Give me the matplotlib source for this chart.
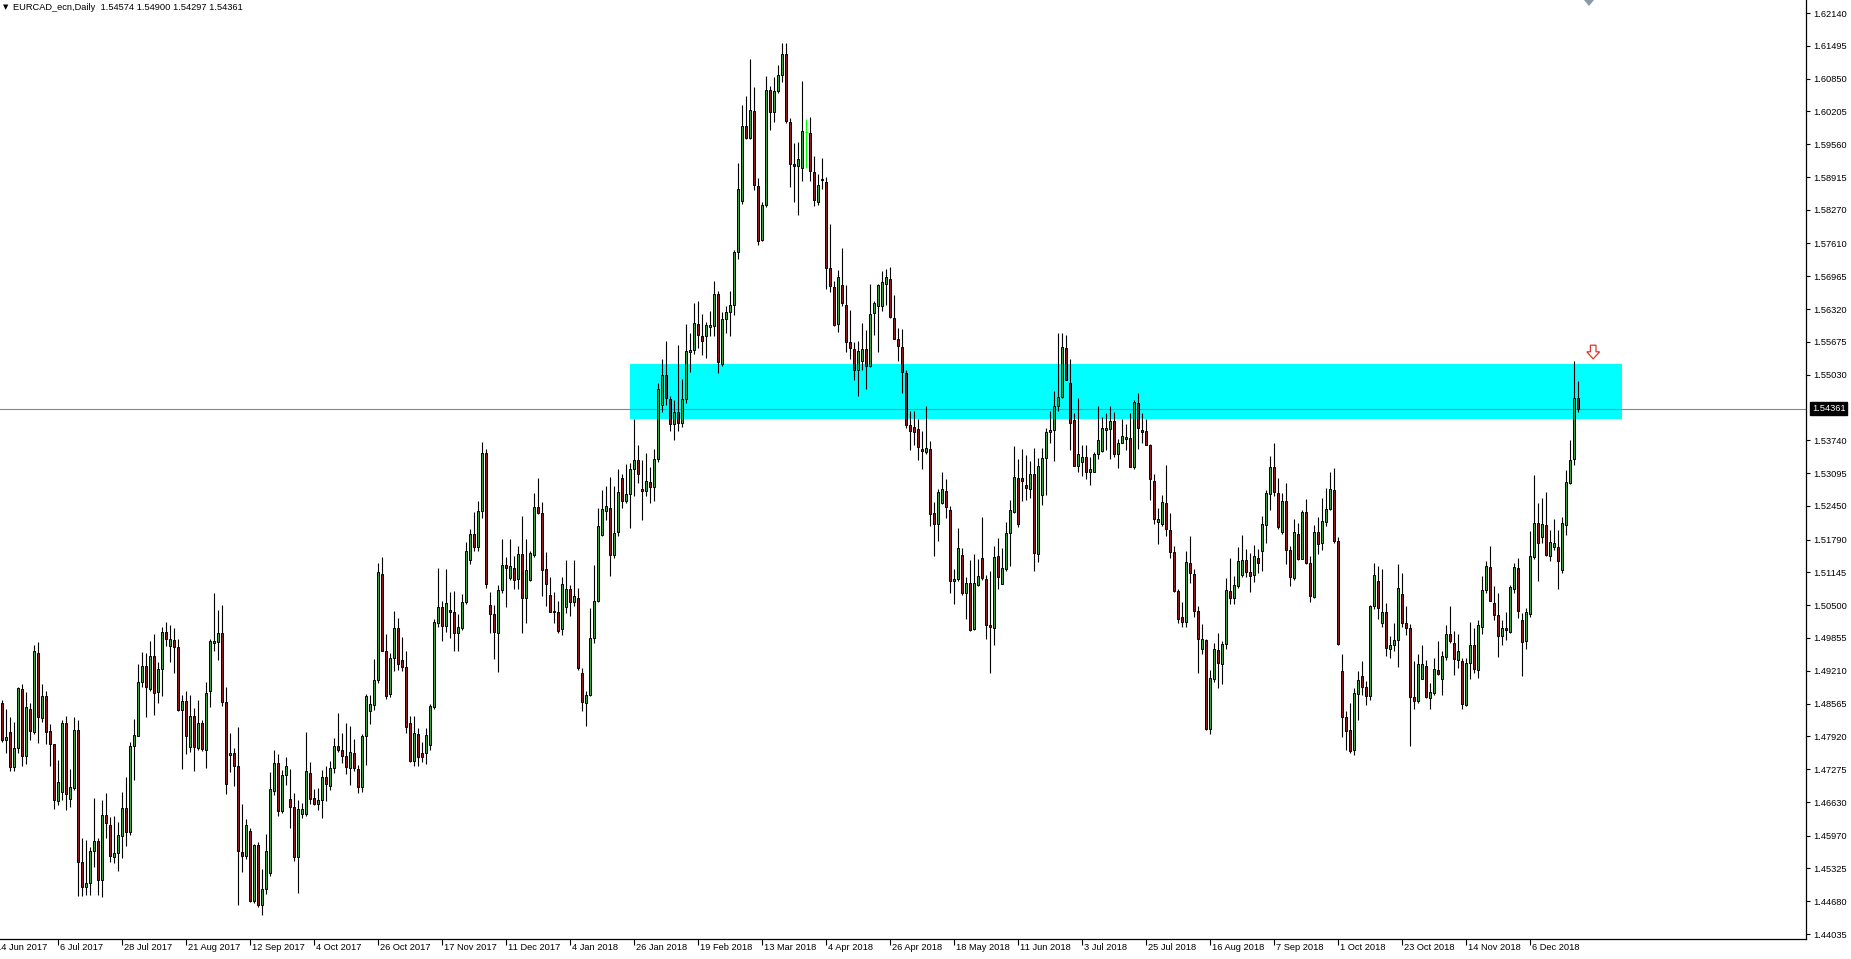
import numpy as np
import matplotlib
matplotlib.use("Agg")
import matplotlib.pyplot as plt
from matplotlib.patches import Rectangle, Polygon
from matplotlib.transforms import blended_transform_factory

plt.rcParams["font.family"] = ["Liberation Sans", "DejaVu Sans"]

# daily candles, EURCAD, mid Jun 2017 .. 20 Dec 2018
opens = [
    1.4857, 1.4784, 1.4801, 1.4732, 1.4769, 1.4886, 1.4753, 1.4845, 1.4801, 1.4955,
    1.4829, 1.4871, 1.4803, 1.4777, 1.4664, 1.4683, 1.4818, 1.4669, 1.4690, 1.4804,
    1.4545, 1.4496, 1.4504, 1.4567, 1.4586, 1.4510, 1.4637, 1.4617, 1.4555, 1.4562,
    1.4597, 1.4651, 1.4605, 1.4774, 1.4793, 1.4899, 1.4931, 1.4885, 1.4951, 1.4880,
    1.4925, 1.4998, 1.4970, 1.4982, 1.4967, 1.4844, 1.4862, 1.4771, 1.4833, 1.4769,
    1.4818, 1.4766, 1.4881, 1.4976, 1.4977, 1.4995, 1.4860, 1.4756, 1.4760, 1.4734,
    1.4565, 1.4557, 1.4606, 1.4468, 1.4578, 1.4461, 1.4492, 1.4524, 1.4685, 1.4739,
    1.4645, 1.4717, 1.4669, 1.4654, 1.4555, 1.4640, 1.4640, 1.4720, 1.4671, 1.4659,
    1.4666, 1.4713, 1.4694, 1.4729, 1.4774, 1.4766, 1.4753, 1.4729, 1.4760, 1.4727,
    1.4692, 1.4792, 1.4841, 1.4854, 1.4902, 1.5111, 1.4960, 1.4875, 1.4946, 1.5006,
    1.4943, 1.4928, 1.4818, 1.4744, 1.4797, 1.4759, 1.4759, 1.4775, 1.4849, 1.5015,
    1.5046, 1.5009, 1.5041, 1.5036, 1.4995, 1.5006, 1.5056, 1.5139, 1.5189, 1.5164,
    1.5236, 1.5349, 1.5050, 1.5032, 1.4995, 1.5079, 1.5128, 1.5103, 1.5124, 1.5102,
    1.5150, 1.5065, 1.5100, 1.5149, 1.5243, 1.5232, 1.5121, 1.5070, 1.5039, 1.5036,
    1.5004, 1.5046, 1.5081, 1.5056, 1.5065, 1.4916, 1.4858, 1.4874, 1.4985, 1.5058,
    1.5188, 1.5236, 1.5241, 1.5149, 1.5194, 1.5300, 1.5255, 1.5269, 1.5317, 1.5335,
    1.5279, 1.5274, 1.5293, 1.5283, 1.5338, 1.5443, 1.5502, 1.5456, 1.5406, 1.5429,
    1.5409, 1.5456, 1.5547, 1.5552, 1.5603, 1.5580, 1.5580, 1.5597, 1.5599, 1.5662,
    1.5524, 1.5613, 1.5627, 1.5641, 1.5745, 1.5845, 1.5992, 1.5968, 1.6022, 1.5873,
    1.5768, 1.5836, 1.6062, 1.6020, 1.6060, 1.6093, 1.6133, 1.5999, 1.5917, 1.5914,
    1.5909, 1.5980, 1.5978, 1.5901, 1.5843, 1.5888, 1.5882, 1.5712, 1.5675, 1.5603,
    1.5679, 1.5641, 1.5568, 1.5554, 1.5513, 1.5530, 1.5553, 1.5521, 1.5624, 1.5639,
    1.5638, 1.5682, 1.5692, 1.5615, 1.5574, 1.5558, 1.5507, 1.5404, 1.5400, 1.5396,
    1.5357, 1.5351, 1.5357, 1.5231, 1.5210, 1.5250, 1.5274, 1.5238, 1.5097, 1.5101,
    1.5148, 1.5074, 1.5093, 1.5004, 1.5089, 1.5142, 1.5101, 1.5011, 1.5005, 1.5146,
    1.5092, 1.5121, 1.5191, 1.5234, 1.5300, 1.5300, 1.5287, 1.5278, 1.5308, 1.5150,
    1.5266, 1.5340, 1.5391, 1.5394, 1.5442, 1.5460, 1.5556, 1.5487, 1.5413, 1.5323,
    1.5332, 1.5342, 1.5311, 1.5312, 1.5347, 1.5353, 1.5395, 1.5396, 1.5412, 1.5347,
    1.5369, 1.5376, 1.5378, 1.5321, 1.5447, 1.5395, 1.5393, 1.5365, 1.5295, 1.5214,
    1.5210, 1.5251, 1.5197, 1.5155, 1.5078, 1.5026, 1.5016, 1.5133, 1.5111, 1.5038,
    1.4964, 1.4982, 1.4807, 1.4905, 1.4961, 1.4935, 1.4974, 1.5078, 1.5064, 1.5088,
    1.5109, 1.5138, 1.5115, 1.5109, 1.5143, 1.5157, 1.5208, 1.5268, 1.5321, 1.5270,
    1.5194, 1.5254, 1.5159, 1.5103, 1.5190, 1.5141, 1.5233, 1.5132, 1.5066, 1.5193,
    1.5172, 1.5213, 1.5239, 1.5277, 1.5177, 1.4921, 1.4830, 1.4805, 1.4765, 1.4875,
    1.4910, 1.4889, 1.4871, 1.5048, 1.5097, 1.5014, 1.5036, 1.4964, 1.4972, 1.4981,
    1.5072, 1.5015, 1.5005, 1.4869, 1.4861, 1.4905, 1.4931, 1.4868, 1.4877, 1.4923,
    1.4904, 1.4949, 1.4993, 1.4976, 1.4943, 1.4940, 1.4854, 1.4936, 1.4972, 1.4922,
    1.5007, 1.5079, 1.5125, 1.5054, 1.5031, 1.4990, 1.5005, 1.4997, 1.5082, 1.5124,
    1.5021, 1.4979, 1.5033, 1.5144, 1.5211, 1.5184, 1.5207, 1.5147, 1.5164, 1.5164,
    1.5120, 1.5208, 1.5290, 1.5337, 1.54574,
]
highs = [
    1.4864, 1.4845, 1.4831, 1.4820, 1.4890, 1.4894, 1.4879, 1.4857, 1.4971, 1.4977,
    1.4894, 1.4882, 1.4817, 1.4778, 1.4745, 1.4825, 1.4833, 1.4727, 1.4831, 1.4824,
    1.4592, 1.4588, 1.4574, 1.4671, 1.4592, 1.4666, 1.4680, 1.4634, 1.4635, 1.4624,
    1.4682, 1.4713, 1.4781, 1.4826, 1.4934, 1.4957, 1.4955, 1.4980, 1.4993, 1.4939,
    1.5008, 1.5017, 1.5010, 1.5005, 1.4984, 1.4873, 1.4881, 1.4874, 1.4847, 1.4864,
    1.4824, 1.4899, 1.4983, 1.5073, 1.5041, 1.5050, 1.4889, 1.4798, 1.4769, 1.4810,
    1.4659, 1.4629, 1.4611, 1.4581, 1.4585, 1.4531, 1.4601, 1.4722, 1.4766, 1.4757,
    1.4725, 1.4752, 1.4727, 1.4681, 1.4667, 1.4662, 1.4801, 1.4741, 1.4688, 1.4690,
    1.4725, 1.4734, 1.4743, 1.4789, 1.4838, 1.4799, 1.4819, 1.4812, 1.4786, 1.4736,
    1.4797, 1.4875, 1.4873, 1.4944, 1.5132, 1.5145, 1.4994, 1.4955, 1.5039, 1.5024,
    1.4987, 1.4959, 1.4832, 1.4832, 1.4808, 1.4780, 1.4808, 1.4855, 1.5023, 1.5123,
    1.5058, 1.5122, 1.5076, 1.5078, 1.5032, 1.5072, 1.5175, 1.5199, 1.5234, 1.5255,
    1.5371, 1.5356, 1.5076, 1.5050, 1.5090, 1.5180, 1.5145, 1.5180, 1.5147, 1.5166,
    1.5225, 1.5180, 1.5156, 1.5271, 1.5300, 1.5252, 1.5154, 1.5105, 1.5076, 1.5058,
    1.5105, 1.5139, 1.5090, 1.5138, 1.5083, 1.4926, 1.4881, 1.5044, 1.5128, 1.5241,
    1.5276, 1.5285, 1.5302, 1.5284, 1.5317, 1.5307, 1.5328, 1.5330, 1.5415, 1.5365,
    1.5335, 1.5349, 1.5321, 1.5356, 1.5486, 1.5533, 1.5570, 1.5462, 1.5453, 1.5561,
    1.5495, 1.5602, 1.5585, 1.5643, 1.5648, 1.5622, 1.5606, 1.5629, 1.5688, 1.5667,
    1.5627, 1.5638, 1.5667, 1.5749, 1.5919, 1.6034, 1.6051, 1.6124, 1.6069, 1.5890,
    1.5843, 1.6090, 1.6071, 1.6088, 1.6112, 1.6156, 1.6156, 1.6008, 1.5958, 1.5961,
    1.6081, 1.6005, 1.6009, 1.5933, 1.5897, 1.5929, 1.5892, 1.5799, 1.5688, 1.5709,
    1.5753, 1.5679, 1.5630, 1.5568, 1.5570, 1.5604, 1.5590, 1.5682, 1.5647, 1.5682,
    1.5707, 1.5711, 1.5715, 1.5660, 1.5594, 1.5592, 1.5513, 1.5432, 1.5432, 1.5415,
    1.5392, 1.5442, 1.5372, 1.5253, 1.5278, 1.5312, 1.5298, 1.5244, 1.5122, 1.5202,
    1.5162, 1.5106, 1.5138, 1.5150, 1.5140, 1.5223, 1.5109, 1.5118, 1.5166, 1.5182,
    1.5163, 1.5213, 1.5257, 1.5362, 1.5338, 1.5357, 1.5345, 1.5334, 1.5358, 1.5340,
    1.5359, 1.5398, 1.5432, 1.5470, 1.5585, 1.5585, 1.5581, 1.5534, 1.5428, 1.5457,
    1.5365, 1.5364, 1.5342, 1.5351, 1.5442, 1.5419, 1.5428, 1.5442, 1.5430, 1.5376,
    1.5415, 1.5406, 1.5428, 1.5453, 1.5468, 1.5428, 1.5415, 1.5366, 1.5308, 1.5240,
    1.5266, 1.5325, 1.5231, 1.5167, 1.5082, 1.5056, 1.5156, 1.5186, 1.5121, 1.5049,
    1.5012, 1.4984, 1.4923, 1.4976, 1.4995, 1.4979, 1.5103, 1.5143, 1.5107, 1.5164,
    1.5188, 1.5160, 1.5152, 1.5169, 1.5161, 1.5225, 1.5277, 1.5344, 1.5369, 1.5300,
    1.5270, 1.5291, 1.5167, 1.5219, 1.5211, 1.5238, 1.5259, 1.5146, 1.5207, 1.5223,
    1.5261, 1.5281, 1.5311, 1.5320, 1.5184, 1.4953, 1.4842, 1.4858, 1.4887, 1.4920,
    1.4940, 1.4900, 1.5051, 1.5133, 1.5126, 1.5121, 1.5054, 1.4989, 1.5015, 1.5130,
    1.5113, 1.5049, 1.5012, 1.4940, 1.4953, 1.4972, 1.4943, 1.4897, 1.4947, 1.4979,
    1.4959, 1.5010, 1.5048, 1.4999, 1.4994, 1.4946, 1.4946, 1.5016, 1.5005, 1.5021,
    1.5107, 1.5136, 1.5167, 1.5087, 1.5074, 1.5021, 1.5036, 1.5090, 1.5133, 1.5143,
    1.5035, 1.5044, 1.5195, 1.5306, 1.5251, 1.5261, 1.5272, 1.5198, 1.5219, 1.5198,
    1.5223, 1.5316, 1.5375, 1.5529, 1.54900,
]
lows = [
    1.4781, 1.4760, 1.4723, 1.4724, 1.4760, 1.4734, 1.4738, 1.4785, 1.4797, 1.4779,
    1.4821, 1.4778, 1.4734, 1.4650, 1.4657, 1.4666, 1.4648, 1.4653, 1.4687, 1.4478,
    1.4478, 1.4481, 1.4480, 1.4536, 1.4481, 1.4476, 1.4593, 1.4546, 1.4543, 1.4527,
    1.4553, 1.4577, 1.4599, 1.4707, 1.4792, 1.4890, 1.4831, 1.4881, 1.4834, 1.4857,
    1.4871, 1.4969, 1.4939, 1.4917, 1.4841, 1.4727, 1.4757, 1.4762, 1.4724, 1.4766,
    1.4764, 1.4729, 1.4850, 1.4960, 1.4943, 1.4852, 1.4678, 1.4722, 1.4694, 1.4461,
    1.4525, 1.4550, 1.4466, 1.4464, 1.4457, 1.4440, 1.4482, 1.4517, 1.4676, 1.4636,
    1.4641, 1.4697, 1.4612, 1.4548, 1.4485, 1.4631, 1.4636, 1.4659, 1.4657, 1.4648,
    1.4632, 1.4664, 1.4687, 1.4720, 1.4762, 1.4739, 1.4718, 1.4697, 1.4723, 1.4681,
    1.4683, 1.4736, 1.4817, 1.4843, 1.4897, 1.4959, 1.4865, 1.4869, 1.4920, 1.4922,
    1.4921, 1.4799, 1.4742, 1.4733, 1.4733, 1.4742, 1.4738, 1.4766, 1.4846, 1.5008,
    1.4979, 1.4998, 1.4985, 1.4959, 1.4959, 1.5001, 1.5053, 1.5131, 1.5156, 1.5156,
    1.5222, 1.5084, 1.4995, 1.4945, 1.4919, 1.5074, 1.5046, 1.5100, 1.5081, 1.5081,
    1.4995, 1.5015, 1.5098, 1.5145, 1.5230, 1.5067, 1.5048, 1.5036, 1.5015, 1.4996,
    1.4992, 1.5034, 1.5028, 1.5048, 1.4923, 1.4841, 1.4813, 1.4872, 1.4976, 1.5056,
    1.5185, 1.5218, 1.5108, 1.5142, 1.5185, 1.5241, 1.5250, 1.5202, 1.5265, 1.5290,
    1.5218, 1.5265, 1.5250, 1.5255, 1.5331, 1.5429, 1.5443, 1.5393, 1.5375, 1.5392,
    1.5401, 1.5448, 1.5509, 1.5544, 1.5556, 1.5542, 1.5535, 1.5580, 1.5580, 1.5507,
    1.5521, 1.5585, 1.5580, 1.5620, 1.5731, 1.5839, 1.5966, 1.5966, 1.5867, 1.5757,
    1.5765, 1.5832, 1.5984, 1.5999, 1.6057, 1.6079, 1.5997, 1.5872, 1.5842, 1.5817,
    1.5883, 1.5909, 1.5884, 1.5834, 1.5837, 1.5869, 1.5672, 1.5666, 1.5598, 1.5587,
    1.5638, 1.5547, 1.5533, 1.5492, 1.5462, 1.5513, 1.5475, 1.5519, 1.5581, 1.5547,
    1.5628, 1.5641, 1.5615, 1.5573, 1.5530, 1.5468, 1.5399, 1.5355, 1.5365, 1.5335,
    1.5317, 1.5348, 1.5206, 1.5146, 1.5176, 1.5248, 1.5221, 1.5074, 1.5052, 1.5098,
    1.5069, 1.5022, 1.4999, 1.5001, 1.5088, 1.5099, 1.4984, 1.4916, 1.4971, 1.5082,
    1.5091, 1.5118, 1.5126, 1.5231, 1.5203, 1.5254, 1.5257, 1.5261, 1.5118, 1.5135,
    1.5246, 1.5266, 1.5368, 1.5334, 1.5432, 1.5457, 1.5492, 1.5355, 1.5323, 1.5312,
    1.5304, 1.5297, 1.5287, 1.5311, 1.5338, 1.5351, 1.5355, 1.5338, 1.5342, 1.5319,
    1.5368, 1.5355, 1.5321, 1.5317, 1.5357, 1.5368, 1.5364, 1.5257, 1.5210, 1.5170,
    1.5206, 1.5186, 1.5142, 1.5076, 1.5014, 1.5008, 1.5008, 1.5094, 1.5027, 1.4917,
    1.4953, 1.4805, 1.4797, 1.4898, 1.4887, 1.4895, 1.4964, 1.5053, 1.5053, 1.5084,
    1.5105, 1.5105, 1.5075, 1.5095, 1.5113, 1.5118, 1.5172, 1.5238, 1.5264, 1.5200,
    1.5189, 1.5130, 1.5087, 1.5099, 1.5139, 1.5140, 1.5130, 1.5057, 1.5064, 1.5151,
    1.5158, 1.5205, 1.5238, 1.5173, 1.4972, 1.4791, 1.4765, 1.4760, 1.4756, 1.4824,
    1.4874, 1.4854, 1.4863, 1.5042, 1.5023, 1.5008, 1.4951, 1.4946, 1.4959, 1.4928,
    1.5008, 1.4992, 1.4773, 1.4845, 1.4858, 1.4904, 1.4868, 1.4845, 1.4874, 1.4913,
    1.4874, 1.4943, 1.4976, 1.4913, 1.4926, 1.4845, 1.4852, 1.4905, 1.4917, 1.4907,
    1.4994, 1.5074, 1.5058, 1.5021, 1.4949, 1.4972, 1.4981, 1.4996, 1.5074, 1.5025,
    1.4910, 1.4964, 1.5027, 1.5141, 1.5097, 1.5172, 1.5146, 1.5136, 1.5159, 1.5082,
    1.5114, 1.5188, 1.5289, 1.5326, 1.54297,
]
closes = [
    1.4784, 1.4790, 1.4732, 1.4769, 1.4887, 1.4753, 1.4850, 1.4803, 1.4960, 1.4831,
    1.4871, 1.4801, 1.4778, 1.4666, 1.4702, 1.4818, 1.4678, 1.4692, 1.4804, 1.4546,
    1.4496, 1.4503, 1.4567, 1.4586, 1.4510, 1.4637, 1.4622, 1.4556, 1.4562, 1.4598,
    1.4651, 1.4605, 1.4774, 1.4794, 1.4899, 1.4931, 1.4889, 1.4951, 1.4878, 1.4924,
    1.4998, 1.4984, 1.4983, 1.4967, 1.4844, 1.4862, 1.4793, 1.4833, 1.4771, 1.4818,
    1.4767, 1.4878, 1.4979, 1.4979, 1.4995, 1.4860, 1.4699, 1.4760, 1.4734, 1.4566,
    1.4557, 1.4617, 1.4468, 1.4579, 1.4460, 1.4492, 1.4567, 1.4688, 1.4739, 1.4646,
    1.4717, 1.4734, 1.4654, 1.4555, 1.4650, 1.4650, 1.4723, 1.4669, 1.4659, 1.4666,
    1.4713, 1.4699, 1.4729, 1.4773, 1.4765, 1.4753, 1.4732, 1.4762, 1.4729, 1.4692,
    1.4792, 1.4871, 1.4855, 1.4902, 1.5115, 1.4960, 1.4871, 1.4946, 1.5006, 1.4934,
    1.4928, 1.4811, 1.4744, 1.4799, 1.4752, 1.4752, 1.4794, 1.4851, 1.5017, 1.5046,
    1.5009, 1.5055, 1.5036, 1.4995, 1.5008, 1.5056, 1.5156, 1.5189, 1.5164, 1.5236,
    1.5349, 1.5092, 1.5032, 1.4998, 1.5079, 1.5128, 1.5123, 1.5126, 1.5100, 1.5150,
    1.5065, 1.5119, 1.5152, 1.5243, 1.5232, 1.5119, 1.5091, 1.5037, 1.5036, 1.4999,
    1.5091, 1.5081, 1.5056, 1.5067, 1.4926, 1.4860, 1.4874, 1.4985, 1.5058, 1.5206,
    1.5239, 1.5244, 1.5149, 1.5192, 1.5272, 1.5255, 1.5269, 1.5317, 1.5335, 1.5307,
    1.5274, 1.5295, 1.5283, 1.5338, 1.5475, 1.5502, 1.5457, 1.5406, 1.5429, 1.5409,
    1.5456, 1.5550, 1.5552, 1.5605, 1.5582, 1.5570, 1.5601, 1.5601, 1.5662, 1.5528,
    1.5613, 1.5627, 1.5641, 1.5745, 1.5869, 1.5992, 1.5968, 1.6024, 1.5876, 1.5765,
    1.5836, 1.6062, 1.6020, 1.6060, 1.6093, 1.6133, 1.6001, 1.5917, 1.5914, 1.5928,
    1.5982, 1.5980, 1.5903, 1.5847, 1.5875, 1.5885, 1.5712, 1.5677, 1.5600, 1.5695,
    1.5643, 1.5568, 1.5556, 1.5513, 1.5550, 1.5553, 1.5521, 1.5622, 1.5643, 1.5679,
    1.5685, 1.5696, 1.5617, 1.5574, 1.5560, 1.5509, 1.5404, 1.5393, 1.5391, 1.5361,
    1.5353, 1.5359, 1.5229, 1.5210, 1.5273, 1.5278, 1.5242, 1.5098, 1.5101, 1.5162,
    1.5074, 1.5093, 1.5001, 1.5093, 1.5108, 1.5103, 1.5010, 1.5008, 1.5144, 1.5106,
    1.5123, 1.5191, 1.5237, 1.5301, 1.5210, 1.5295, 1.5280, 1.5308, 1.5153, 1.5323,
    1.5340, 1.5391, 1.5395, 1.5442, 1.5460, 1.5558, 1.5493, 1.5408, 1.5324, 1.5347,
    1.5342, 1.5312, 1.5317, 1.5348, 1.5374, 1.5399, 1.5399, 1.5412, 1.5347, 1.5368,
    1.5382, 1.5381, 1.5321, 1.5449, 1.5398, 1.5391, 1.5365, 1.5298, 1.5219, 1.5220,
    1.5253, 1.5200, 1.5155, 1.5078, 1.5022, 1.5017, 1.5135, 1.5113, 1.5038, 1.4984,
    1.4984, 1.4807, 1.4906, 1.4964, 1.4936, 1.4974, 1.5080, 1.5065, 1.5090, 1.5137,
    1.5139, 1.5115, 1.5107, 1.5146, 1.5133, 1.5210, 1.5270, 1.5321, 1.5272, 1.5203,
    1.5254, 1.5159, 1.5105, 1.5194, 1.5141, 1.5234, 1.5133, 1.5067, 1.5194, 1.5171,
    1.5215, 1.5239, 1.5278, 1.5177, 1.4974, 1.4830, 1.4803, 1.4763, 1.4877, 1.4903,
    1.4889, 1.4872, 1.5049, 1.5109, 1.5044, 1.5036, 1.4966, 1.4972, 1.4982, 1.5084,
    1.5014, 1.5005, 1.4869, 1.4862, 1.4934, 1.4934, 1.4869, 1.4879, 1.4924, 1.4915,
    1.4951, 1.4993, 1.4979, 1.4944, 1.4959, 1.4856, 1.4936, 1.4972, 1.4924, 1.5010,
    1.5079, 1.5126, 1.5059, 1.5031, 1.4990, 1.5005, 1.5002, 1.5086, 1.5125, 1.5038,
    1.4977, 1.5036, 1.5147, 1.5211, 1.5172, 1.5210, 1.5149, 1.5174, 1.5172, 1.5137,
    1.5211, 1.5293, 1.5336, 1.5457, 1.54361,
]

# time axis labels, one every 16 bars
date_labels = ["14 Jun 2017", "6 Jul 2017", "28 Jul 2017", "21 Aug 2017", "12 Sep 2017",
               "4 Oct 2017", "26 Oct 2017", "17 Nov 2017", "11 Dec 2017", "4 Jan 2018",
               "26 Jan 2018", "19 Feb 2018", "13 Mar 2018", "4 Apr 2018", "26 Apr 2018",
               "18 May 2018", "11 Jun 2018", "3 Jul 2018", "25 Jul 2018", "16 Aug 2018",
               "7 Sep 2018", "1 Oct 2018", "23 Oct 2018", "14 Nov 2018", "6 Dec 2018"]
first_label_bar = -2
label_step = 16

# price scale labels
price_ticks = [1.62140, 1.61495, 1.60850, 1.60205, 1.59560, 1.58915, 1.58270, 1.57610,
               1.56965, 1.56320, 1.55675, 1.55030, 1.53740, 1.53095, 1.52450, 1.51790,
               1.51145, 1.50500, 1.49855, 1.49210, 1.48565, 1.47920, 1.47275, 1.46630,
               1.45970, 1.45325, 1.44680, 1.44035]

last_price = 1.54361
zone_bars = (156.9, 404.9)
zone_prices = (1.5416, 1.5524)
arrow_bar = 397.7
arrow_prices = (1.5534, 1.5548, 1.5561)   # tip, head base, tail

bull = "#3f9f3f"
bear = "#8e1b1b"
fs = 6.7

W, H = 1851, 959
fig = plt.figure(figsize=(W / 100, H / 100), dpi=100)
fig.patch.set_facecolor("white")
ax = fig.add_axes([0, 20 / H, 1806 / W, 939 / H])
ax.set_xlim(-0.58, 450.9)
ax.set_ylim(1.43937, 1.62396)

o = np.array(opens)
hi = np.array(highs)
lo = np.array(lows)
c = np.array(closes)
x = np.arange(len(o))
up = c > o
dn = c < o
dj = c == o

# support/resistance zone and current price line
ax.add_patch(Rectangle((zone_bars[0], zone_prices[0]), zone_bars[1] - zone_bars[0],
                       zone_prices[1] - zone_prices[0], facecolor="#00ffff",
                       edgecolor="none", zorder=1))
ax.axhline(last_price, color="#7f8792", lw=0.8, zorder=2)

# candles
ax.vlines(x[~dj], lo[~dj], hi[~dj], color="black", lw=0.8, zorder=3)
bot = np.minimum(o, c)
ht = np.abs(c - o)
ax.bar(x[up], ht[up], bottom=bot[up], width=0.52, color=bull, edgecolor="black",
       lw=0.7, zorder=4)
ax.bar(x[dn], ht[dn], bottom=bot[dn], width=0.52, color=bear, edgecolor="black",
       lw=0.7, zorder=4)
ax.vlines(x[dj], lo[dj], hi[dj], color="#00ff00", lw=0.8, zorder=4)
ax.hlines(c[dj], x[dj] - 0.3, x[dj] + 0.3, color="#00ff00", lw=0.8, zorder=4)

# down arrow
tip, base, tail = arrow_prices
ax.add_patch(Polygon([(arrow_bar - 0.7, tail), (arrow_bar + 0.7, tail),
                      (arrow_bar + 0.7, base), (arrow_bar + 1.6, base),
                      (arrow_bar, tip), (arrow_bar - 1.6, base),
                      (arrow_bar - 0.7, base)], closed=True,
                     facecolor="white", edgecolor="#e8302a", lw=0.9, zorder=5))

# axes styling
for s in ["top", "left"]:
    ax.spines[s].set_visible(False)
ax.spines["right"].set_linewidth(0.9)
ax.spines["bottom"].set_linewidth(0.9)
ax.yaxis.tick_right()
ax.set_yticks(price_ticks)
ax.set_yticklabels(["%.5f" % p for p in price_ticks])
ax.tick_params(axis="y", direction="out", length=3, width=0.8, pad=2, labelsize=fs)

# time axis: tick marks plus left-aligned labels right of each tick
tick_pos = [first_label_bar + label_step * k for k in range(len(date_labels))]
ax.set_xticks([t for t in tick_pos if t > -0.58])
ax.set_xticklabels([])
ax.tick_params(axis="x", direction="out", length=4, width=0.8)
xtr = blended_transform_factory(ax.transData, ax.transAxes)
for t, lab in zip(tick_pos, date_labels):
    ax.text(t + 0.5, -9 / 939, lab, transform=xtr, fontsize=fs, ha="left",
            va="center", clip_on=False)

# current price label on the price scale
tr = blended_transform_factory(ax.transAxes, ax.transData)
ax.text(1.0 + 6 / 1806, last_price, "%.5f" % last_price, transform=tr, fontsize=fs,
        color="white", va="center", ha="left",
        bbox=dict(boxstyle="square,pad=0.2", facecolor="black", edgecolor="black"))

# header
fig.text(3 / W, 1 - 7 / H, "\u25bc", fontsize=5, va="center", ha="left",
         family="DejaVu Sans")
fig.text(13 / W, 1 - 7 / H, "EURCAD_ecn,Daily  1.54574 1.54900 1.54297 1.54361",
         fontsize=fs, va="center", ha="left")

# chart shift marker at the top
fig.patches.append(Polygon([(1584 / W, 1), (1594 / W, 1), (1589 / W, 1 - 6 / H)],
                           closed=True, transform=fig.transFigure,
                           facecolor="#8a98a8", edgecolor="none"))

fig.savefig("out.png", dpi=100, facecolor="white")
